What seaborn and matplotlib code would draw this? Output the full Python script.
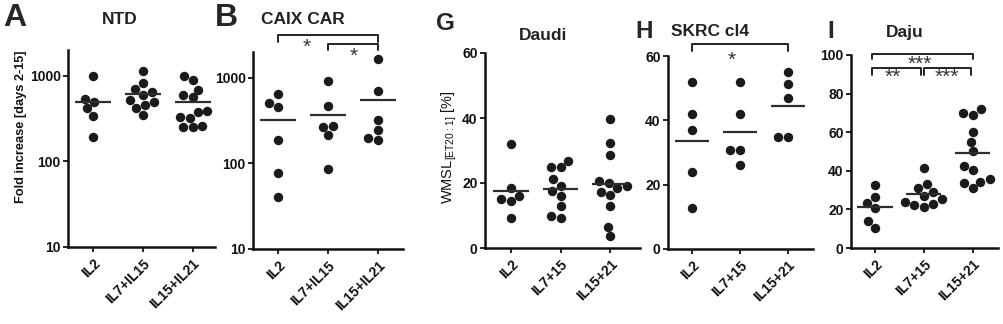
import numpy as np
import pandas as pd
import matplotlib
matplotlib.use("Agg")
import matplotlib.pyplot as plt
import seaborn as sns
from matplotlib.ticker import NullLocator, FixedLocator

sns.set_theme(style="ticks")
plt.rcParams['font.family'] = ['Liberation Sans', 'DejaVu Sans']
plt.rcParams['font.weight'] = 'bold'
plt.rcParams['mathtext.default'] = 'regular'

# ---------------- data ----------------
cats_ab = ["IL2", "IL7+IL15", "IL15+IL21"]
cats_ghi = ["IL2", "IL7+15", "IL15+21"]

ntd_il2 = [1000, 535, 500, 419, 340, 192]
ntd_il7_15 = [1150, 830, 700, 650, 600, 520, 500, 450, 420, 350]
ntd_il15_21 = [1000, 900, 690, 600, 560, 390, 380, 330, 320, 260, 250, 255]

caix_il2 = [641, 512, 460, 189, 77, 40]
caix_il7_15 = [915, 469, 269, 275, 216, 85]
caix_il15_21 = [1636, 700, 322, 247, 189, 197]

daudi_il2 = [32.0, 18.4, 15.0, 14.5, 16.0, 9.2]
daudi_il7_15 = [26.9, 25.0, 25.0, 21.2, 19.2, 17.4, 16.0, 12.8, 9.2, 10.0]
daudi_il15_21 = [39.6, 32.2, 28.6, 19.9, 20.7, 19.0, 18.4, 17.1, 16.4, 12.8, 6.4, 3.6]

skrc_il2 = [51.9, 42.1, 37.1, 24.0, 12.9]
skrc_il7_15 = [51.9, 42.1, 30.9, 30.9, 26.0]
skrc_il15_21 = [55.0, 51.2, 47.0, 34.8, 34.8]

daju_il2 = [32.5, 26.5, 23.3, 20.5, 13.8, 10.3]
daju_il7_15 = [41.5, 33.0, 31.0, 29.0, 27.0, 25.5, 24.0, 23.0, 22.5, 21.5]
daju_il15_21 = [71.9, 69.0, 69.8, 60.0, 55.0, 50.2, 42.7, 40.3, 35.5, 34.3, 33.6, 31.0]

titles = ["NTD", "CAIX CAR", "Daudi", "SKRC cl4", "Daju"]
letters = ["A", "B", "G", "H", "I"]
log_ticks = [10, 100, 1000]
lin_ticks_60 = [0, 20, 40, 60]
lin_ticks_100 = [0, 20, 40, 60, 80, 100]

# ---------------- figure ----------------
W, H = 1004, 324
fig = plt.figure(figsize=(W / 100, H / 100), dpi=100)
fig.patch.set_facecolor("white")

DOT = "#1b1b1b"
LINE = "#2e2e2e"


def px_rect(l, t, r, b):
    return [l / W, 1 - b / H, (r - l) / W, (b - t) / H]


def panel(rect, groups, cats, log, ylim, yticks, xlim):
    ax = fig.add_axes(px_rect(*rect))
    df = pd.DataFrame({
        "group": np.repeat(cats, [len(g) for g in groups]),
        "value": np.concatenate([np.asarray(g, float) for g in groups]),
    })
    if log:
        ax.set_yscale("log")
    ax.set_ylim(*ylim)
    sns.swarmplot(data=df, x="group", y="value", order=cats, ax=ax,
                  color=DOT, size=6.8, linewidth=0, zorder=2, warn_thresh=1)
    means = df.groupby("group", sort=False)["value"].mean()
    for i, c in enumerate(cats):
        ax.hlines(means[c], i - 0.36, i + 0.36, color=LINE, lw=1.6, zorder=3)
    ax.set_xlim(*xlim)
    ax.set_ylim(*ylim)
    ax.yaxis.set_major_locator(FixedLocator(yticks))
    ax.yaxis.set_minor_locator(NullLocator())
    ax.set_yticklabels([str(v) for v in yticks])
    ax.set_xticks(range(len(cats)))
    ax.set_xticklabels(cats, rotation=45, ha="right", rotation_mode="anchor")
    ax.set_xlabel("")
    ax.set_ylabel("")
    ax.tick_params(axis="both", direction="out", length=3.8, width=1.2,
                   color="black", labelsize=10, pad=1.5, labelcolor="#111111")
    ax.tick_params(axis="x", pad=3)
    sns.despine(ax=ax)
    for s in ("left", "bottom"):
        ax.spines[s].set_linewidth(1.8)
        ax.spines[s].set_color("#111111")
    ax.set_facecolor("white")
    return ax


def bracket(ax, x0, x1, y, drop, text, tx, ty, fs=15):
    tr = ax.get_xaxis_transform()
    ax.plot([x0, x0, x1, x1], [y - drop, y, y, y - drop], color="#222222",
            lw=1.4, transform=tr, clip_on=False)
    ax.text(tx, ty, text, transform=tr, ha="center", va="center",
            fontsize=fs, fontweight="normal", color="#333333", clip_on=False)


axA = panel((68, 50, 215, 247), [ntd_il2, ntd_il7_15, ntd_il15_21], cats_ab,
            True, (10, 2000), log_ticks, (-0.5, 2.45))
axB = panel((253, 52, 403, 249), [caix_il2, caix_il7_15, caix_il15_21], cats_ab,
            True, (10, 2000), log_ticks, (-0.5, 2.5))
axG = panel((485, 53, 640, 248), [daudi_il2, daudi_il7_15, daudi_il15_21], cats_ghi,
            False, (0, 60), lin_ticks_60, (-0.52, 2.6))
axH = panel((668, 56, 813, 249), [skrc_il2, skrc_il7_15, skrc_il15_21], cats_ghi,
            False, (0, 60), lin_ticks_60, (-0.5, 2.52))
axI = panel((851, 55, 998, 248), [daju_il2, daju_il7_15, daju_il15_21], cats_ghi,
            False, (0, 100), lin_ticks_100, (-0.49, 2.52))

# significance brackets (y in axes fraction)
bracket(axB, 0, 2, 1.086, 0.035, "*", 0.58, 1.025)
bracket(axB, 1, 2, 1.041, 0.031, "*", 1.52, 0.98)
bracket(axH, 0, 2, 1.064, 0.040, "*", 0.83, 0.975)
bracket(axI, -0.05, 2, 1.005, 0.028, "***", 0.92, 0.952)
bracket(axI, -0.05, 0.95, 0.933, 0.035, "**", 0.37, 0.882)
bracket(axI, 1.0, 1.97, 0.933, 0.035, "***", 1.48, 0.882)

# panel letters and titles (pixel positions)
def ftext(x, y, s, **kw):
    fig.text(x / W, 1 - y / H, s, **kw)

ftext(3, 18, "A", fontsize=23, fontweight="bold", va="center", ha="left")
ftext(215, 18, "B", fontsize=23, fontweight="bold", va="center", ha="left")
ftext(436, 24, "G", fontsize=17.5, fontweight="bold", va="center", ha="left")
ftext(635, 31, "H", fontsize=17.5, fontweight="bold", va="center", ha="left")
ftext(827, 32, "I", fontsize=17.5, fontweight="bold", va="center", ha="left")

ftext(120, 19, titles[0], fontsize=12.5, fontweight="bold", ha="center", va="center", color="#222222")
ftext(303, 20, titles[1], fontsize=12.5, fontweight="bold", ha="center", va="center", color="#222222")
ftext(543, 36, titles[2], fontsize=12.5, fontweight="bold", ha="center", va="center", color="#222222")
ftext(710, 31, titles[3], fontsize=12.5, fontweight="bold", ha="center", va="center", color="#222222")
ftext(905, 32, titles[4], fontsize=12.5, fontweight="bold", ha="center", va="center", color="#222222")

ftext(21, 127, "Fold increase [days 2-15]", fontsize=9.2, fontweight="bold",
      rotation=90, ha="center", va="center", color="#111111")
ftext(449, 147, r"WMSL$_{[\mathregular{ET20:1}]}$ [%]", fontsize=10.5, fontweight="normal",
      rotation=90, ha="center", va="center", color="#111111")

fig.savefig("out.png", dpi=100, facecolor="white")
